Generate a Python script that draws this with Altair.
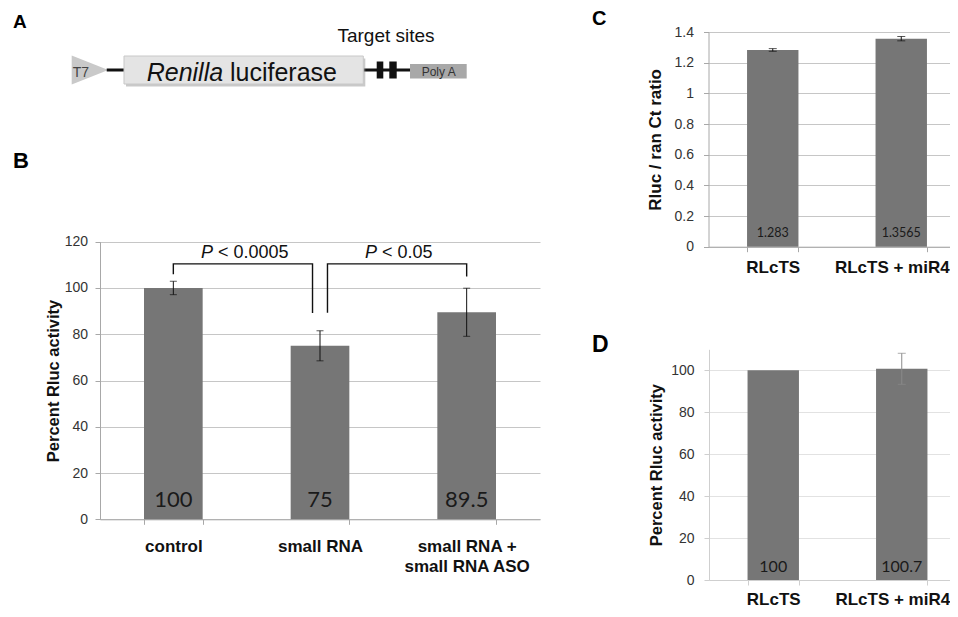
import altair as alt
import pandas as pd

W, H = 942, 601
BAR = "#767676"
TXT = "#333333"
SANS = "Liberation Sans"
NUM = "Lato"

# ---------------- Panel B data ----------------
b_cats = ["control", "small RNA", "small RNA + small RNA ASO"]
b_vals = [100, 75, 89.5]
b_errs = [2.9, 6.5, 10.4]
b_labels = ["100", "75", "89.5"]
b_ticks = [0, 20, 40, 60, 80, 100, 120]

# significance brackets: x in category-index units, y in percent
br_id = [1, 1, 1, 1, 2, 2, 2, 2]
br_order = [0, 1, 2, 3, 0, 1, 2, 3]
br_x = [0, 0, 0.949, 0.949, 1.051, 1.051, 2, 2]
br_y = [105.9, 110.4, 110.4, 89.2, 89.3, 110.4, 110.4, 105.0]
p_x = [0.27, 1.389]
p_y = [112.8, 112.8]
p_text = ["< 0.0005", "< 0.05"]

# ---------------- Panel C data ----------------
c_cats = ["RLcTS", "RLcTS + miR408"]
c_vals = [1.283, 1.3565]
c_errs = [0.0087, 0.014]
c_labels = ["1.283", "1.3565"]
c_ticks = [0, 0.2, 0.4, 0.6, 0.8, 1, 1.2, 1.4]

# ---------------- Panel D data ----------------
d_cats = ["RLcTS", "RLcTS + miR408"]
d_vals = [100, 100.7]
d_errs = [0, 7.4]
d_labels = ["100", "100.7"]
d_ticks = [0, 20, 40, 60, 80, 100]

# ---------------- Panel A schematic (construct units) ----------------
tri_x = [0, 36.6]
tri_lo = [-14.5, 0]
tri_hi = [14.5, 0]
link_x0 = [35, 291.6]
link_x1 = [52.3, 338.3]
gene_x = [52.3, 291.6]
gene_y = [-14, 14]
site_x0 = [305, 317.6]
site_x1 = [311.6, 325]
site_y = [-8.5, 8.5]
polya_x = [338.3, 395]
polya_y = [-8.5, 6]


def bar_panel(cats, vals, errs, labels, xr, yd, yr, yaxis, xaxis,
              lab_size, lab_dy, err_color, cap):
    df = pd.DataFrame({
        "cat": cats, "val": vals, "err": errs, "lab": labels,
        "lo": [v - e for v, e in zip(vals, errs)],
        "hi": [v + e for v, e in zip(vals, errs)],
        "base": [0] * len(cats),
    })
    xs = alt.Scale(domain=cats, range=xr, paddingInner=0.6, paddingOuter=0.3)
    ys = alt.Scale(domain=yd, range=yr, nice=False)
    base = alt.Chart(df)
    bars = base.mark_bar(color=BAR).encode(
        x=alt.X("cat:N", scale=xs, axis=xaxis),
        y=alt.Y("val:Q", scale=ys, axis=yaxis),
    )
    eb = base.transform_filter("datum.err > 0")
    rule = eb.mark_rule(color=err_color, strokeWidth=1).encode(
        x=alt.X("cat:N", scale=xs, axis=None),
        y=alt.Y("lo:Q", scale=ys, axis=None),
        y2="hi:Q",
    )
    caps = eb.transform_fold(["lo", "hi"], as_=["k", "cv"]).mark_tick(
        color=err_color, size=cap, thickness=1
    ).encode(
        x=alt.X("cat:N", scale=xs, axis=None),
        y=alt.Y("cv:Q", scale=ys, axis=None),
    )
    txt = base.mark_text(font=NUM, fontSize=lab_size, baseline="alphabetic",
                         dy=lab_dy, color="#1a1a1a").encode(
        x=alt.X("cat:N", scale=xs, axis=None),
        y=alt.Y("base:Q", scale=ys, axis=None),
        text="lab:N",
    )
    return [bars, rule, caps, txt], ys


def y_axis(offset, values, title, tsize, tpad, lpad, grid_color, dom_color, fmt=None):
    kw = dict(orient="left", offset=offset, values=values, labelFont=SANS,
              labelFontSize=14, labelColor=TXT, labelPadding=lpad, tickSize=5,
              tickColor=dom_color, domainColor=dom_color, grid=True,
              gridColor=grid_color, title=title, titleFont=SANS,
              titleFontSize=tsize, titleFontWeight="bold", titleColor="#111111",
              titlePadding=tpad)
    if fmt:
        kw["format"] = fmt
    return alt.Axis(**kw)


def x_axis(offset, lpad, dom_color, expr=None):
    kw = dict(orient="bottom", offset=offset, labelFont=SANS, labelFontSize=17,
              labelFontWeight="bold", labelColor="#111111", labelPadding=lpad,
              tickBand="extent", tickSize=5, tickColor=dom_color,
              domainColor=dom_color, labelAngle=0, grid=False, title=None,
              labelOverlap=False, labelLimit=400, labelLineHeight=20)
    if expr:
        kw["labelExpr"] = expr
    return alt.Axis(**kw)


# ---------------- Panel B ----------------
B_Y0, B_Y1 = 511.3, 233.7
b_layers, b_ys = bar_panel(
    b_cats, b_vals, b_errs, b_labels, [92, 532], [0, 120], [B_Y0, B_Y1],
    y_axis(-92, b_ticks, "Percent Rluc activity", 16.5, 3, 7.5, "#c6c6c6", "#a8a8a8"),
    x_axis(B_Y0 - H, 14, "#a8a8a8",
           "split(replace(datum.label, '+ ', '+|'), '|')"),
    22, -12, "#111111", 7,
)
bx = alt.Scale(domain=[-0.5, 2.5], range=[92, 532])
brackets = alt.Chart(pd.DataFrame({
    "id": br_id, "o": br_order, "x": br_x, "y": br_y})).mark_line(
    color="#111111", strokeWidth=1.4).encode(
    x=alt.X("x:Q", scale=bx, axis=None),
    y=alt.Y("y:Q", scale=b_ys, axis=None),
    detail="id:N", order="o:Q",
)
pdf = pd.DataFrame({"x": p_x, "y": p_y, "t": p_text, "p": ["P", "P"]})
p_it = alt.Chart(pdf).mark_text(font=SANS, fontSize=18, fontStyle="italic",
                                align="right", baseline="alphabetic",
                                color="#111111").encode(
    x=alt.X("x:Q", scale=bx, axis=None), y=alt.Y("y:Q", scale=b_ys, axis=None),
    text="p:N")
p_rest = alt.Chart(pdf).mark_text(font=SANS, fontSize=18, align="left",
                                  baseline="alphabetic", dx=5,
                                  color="#111111").encode(
    x=alt.X("x:Q", scale=bx, axis=None), y=alt.Y("y:Q", scale=b_ys, axis=None),
    text="t:N")

# ---------------- Panel C ----------------
C_Y0, C_Y1 = 238.7, 24
c_layers, _ = bar_panel(
    c_cats, c_vals, c_errs, c_labels, [700.5, 957.5], [0, 1.4], [C_Y0, C_Y1],
    y_axis(-700.5, c_ticks, "Rluc / ran Ct ratio", 17, 10, 10, "#c6c6c6", "#a8a8a8", "~g"),
    x_axis(C_Y0 - H, 8, "#a8a8a8"),
    12.5, -9.5, "#111111", 8,
)

# ---------------- Panel D ----------------
D_Y0, D_Y1 = 572, 341.3
d_layers, _ = bar_panel(
    d_cats, d_vals, d_errs, d_labels, [701, 958], [0, 110], [D_Y0, D_Y1],
    y_axis(-701, d_ticks, "Percent Rluc activity", 16.5, 6, 10, "#e2e2e2", "#cfcfcf"),
    x_axis(D_Y0 - H, 6, "#cfcfcf"),
    16, -8, "#8a8a8a", 8,
)

# ---------------- Panel A ----------------
DX = alt.Scale(domain=[0, 395], range=[63.7, 458.7])
DY = alt.Scale(domain=[-20, 20], range=[82, 42])

tri = alt.Chart(pd.DataFrame({"x": tri_x, "lo": tri_lo, "hi": tri_hi})).mark_area(
    color="#c9c9c9").encode(
    x=alt.X("x:Q", scale=DX, axis=None), y=alt.Y("lo:Q", scale=DY, axis=None), y2="hi:Q")
links = alt.Chart(pd.DataFrame({"a": link_x0, "b": link_x1, "y": [0, 0]})).mark_rule(
    color="#111111", strokeWidth=3).encode(
    x=alt.X("a:Q", scale=DX, axis=None), x2="b:Q", y=alt.Y("y:Q", scale=DY, axis=None))
gene_df = pd.DataFrame({"a": [gene_x[0]], "b": [gene_x[1]], "c": [gene_y[0]], "d": [gene_y[1]]})
gene_shadow = alt.Chart(gene_df).mark_rect(
    color="#9c9c9c", opacity=0.55, xOffset=2, x2Offset=2, yOffset=2.5, y2Offset=2.5).encode(
    x=alt.X("a:Q", scale=DX, axis=None), x2="b:Q",
    y=alt.Y("c:Q", scale=DY, axis=None), y2="d:Q")
gene = alt.Chart(gene_df).mark_rect(fill="#e4e4e4", stroke="#c8c8c8", strokeWidth=1).encode(
    x=alt.X("a:Q", scale=DX, axis=None), x2="b:Q",
    y=alt.Y("c:Q", scale=DY, axis=None), y2="d:Q")
sites = alt.Chart(pd.DataFrame({"a": site_x0, "b": site_x1,
                                "c": [site_y[0]] * 2, "d": [site_y[1]] * 2})).mark_rect(
    color="#111111").encode(
    x=alt.X("a:Q", scale=DX, axis=None), x2="b:Q",
    y=alt.Y("c:Q", scale=DY, axis=None), y2="d:Q")
polya = alt.Chart(pd.DataFrame({"a": [polya_x[0]], "b": [polya_x[1]],
                                "c": [polya_y[0]], "d": [polya_y[1]]})).mark_rect(
    color="#a8a8a8").encode(
    x=alt.X("a:Q", scale=DX, axis=None), x2="b:Q",
    y=alt.Y("c:Q", scale=DY, axis=None), y2="d:Q")


def dtext(t, x, y, size, align="left", style="normal", color="#111111"):
    return alt.Chart(pd.DataFrame({"t": [t]})).mark_text(
        font=SANS, fontSize=size, fontStyle=style, align=align,
        baseline="alphabetic", color=color).encode(
        x=alt.XDatum(x, type="quantitative", scale=DX, axis=None),
        y=alt.YDatum(y, type="quantitative", scale=DY, axis=None),
        text="t:N")


a_texts = [
    dtext("T7", 1, -7.3, 14, color="#444444"),
    dtext("Renilla", 75, -11, 25, style="italic"),
    dtext("luciferase", 158.3, -11, 25),
    dtext("Poly A", 367, -5.5, 12, align="center", color="#333333"),
    dtext("Target sites", 314.3, 28.3, 19, align="center"),
]


def letter(t, x, y, size):
    return alt.Chart(pd.DataFrame({"t": [t]})).mark_text(
        font=SANS, fontSize=size, fontWeight="bold", align="left",
        baseline="alphabetic", color="#000000").encode(
        x=alt.value(x), y=alt.value(y), text="t:N")


letters = [letter("A", 5, 20, 19), letter("B", 5, 160, 22),
           letter("C", 584, 17, 20), letter("D", 584, 344, 23)]

layers = (b_layers + [brackets, p_it, p_rest] + c_layers + d_layers +
          [tri, links, gene_shadow, gene, sites, polya] + a_texts + letters)

chart = alt.layer(*layers).resolve_scale(
    x="independent", y="independent"
).properties(
    width=W, height=H, autosize=alt.AutoSizeParams(type="none"), padding=0,
    background="white",
).configure_view(stroke=None)

chart.save("out.html", embed_options={"renderer": "svg", "actions": False})
